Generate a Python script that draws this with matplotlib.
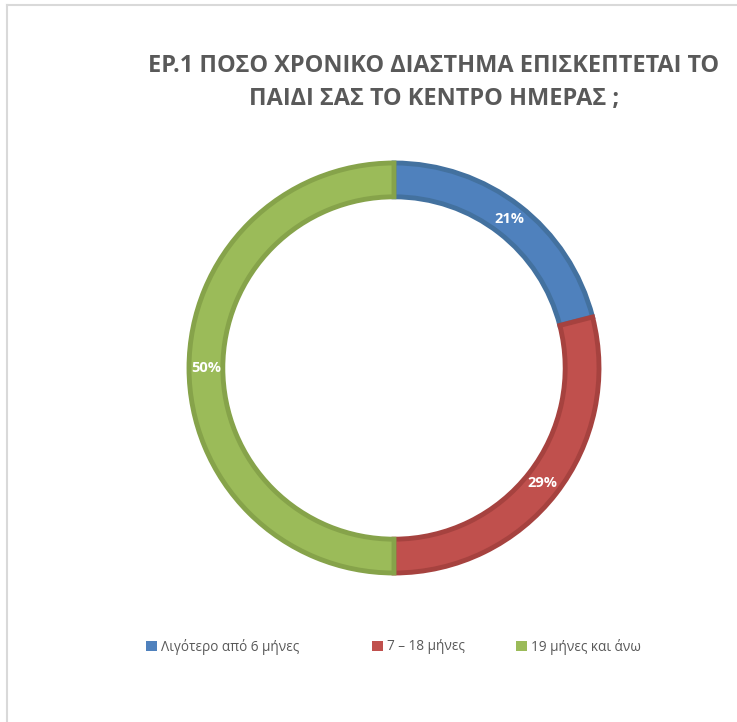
import matplotlib.pyplot as plt
import numpy as np
from matplotlib.patches import Patch
from matplotlib.lines import Line2D

labels = ["Λιγότερο από 6 μήνες", "7 – 18 μήνες", "19 μήνες και άνω"]
values = [21, 29, 50]
colors = ["#4F81BD", "#C0504D", "#9BBB59"]
edges = ["#43719F", "#A6423F", "#86A34A"]
title = "ΕΡ.1 ΠΟΣΟ ΧΡΟΝΙΚΟ ΔΙΑΣΤΗΜΑ ΕΠΙΣΚΕΠΤΕΤΑΙ ΤΟ\nΠΑΙΔΙ ΣΑΣ ΤΟ ΚΕΝΤΡΟ ΗΜΕΡΑΣ ;"

plt.rcParams['font.family'] = ['Open Sans', 'DejaVu Sans']

W, H = 737, 722
fig = plt.figure(figsize=(W / 100, H / 100), dpi=100)

# pie axes: centre (394, 368) px, radius 205 px
cx, cy, r = 394, 368, 205
ax = fig.add_axes([(cx - r) / W, (H - cy - r) / H, 2 * r / W, 2 * r / H])
wedges, texts = ax.pie(values, colors=colors, startangle=90, counterclock=False,
                       radius=1.0, wedgeprops=dict(width=0.165, linewidth=3.5))
for w, e in zip(wedges, edges):
    w.set_edgecolor(e)

# labels at ring middle
for w, v in zip(wedges, values):
    ang = np.deg2rad((w.theta1 + w.theta2) / 2)
    rr = 1 - 0.165 / 2
    ax.text(rr * np.cos(ang), rr * np.sin(ang), f"{v}%", ha='center', va='center',
            color='white', fontsize=10.5, fontweight='bold')
ax.set_xlim(-1, 1)
ax.set_ylim(-1, 1)
ax.set_aspect('equal')
ax.axis('off')

fig.text(434 / W, 1 - 82 / H, title, ha='center', va='center', fontsize=16.9,
         fontweight='bold', color='#595959', linespacing=1.5)

# legend
leg_x = [146, 372, 516]
for lab, c, x in zip(labels, colors, leg_x):
    lg = fig.legend(handles=[Patch(facecolor=c, edgecolor='none', label=lab)],
                    loc='center left', bbox_to_anchor=(x / W, 1 - 647 / H),
                    frameon=False, fontsize=9.8, handlelength=0.8, handleheight=0.8,
                    handletextpad=0.3, borderaxespad=0, borderpad=0)
    for t in lg.get_texts():
        t.set_color('#595959')

# chart frame (left and top edges visible)
fig.add_artist(Line2D([7 / W, 7 / W], [0, 1 - 5 / H], color='#d9d9d9', lw=1.5))
fig.add_artist(Line2D([7 / W, 1], [1 - 5 / H, 1 - 5 / H], color='#d9d9d9', lw=1.5))

fig.savefig("out.png", dpi=100, facecolor='white')
